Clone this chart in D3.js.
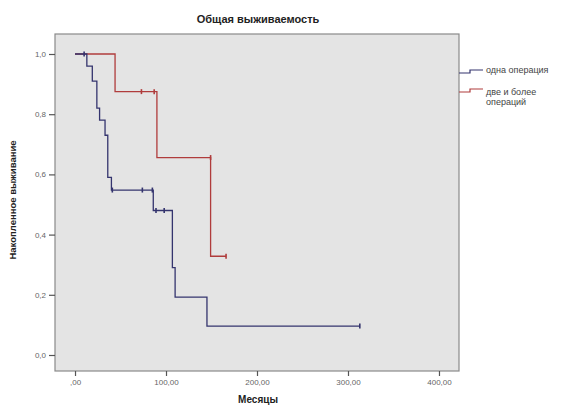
<!DOCTYPE html>
<html>
<head>
<meta charset="utf-8">
<script src="https://cdn.jsdelivr.net/npm/d3@7"></script>
<style>
  body { margin: 0; background: #fff; }
  svg { font-family: Arial, "Liberation Sans", sans-serif; }
</style>
</head>
<body>
<svg id="chart" width="587" height="407"></svg>
<script>
// Kaplan-Meier steps: [month, survival]
var oneOpSteps = [[0, 1.0], [13, 0.96], [19, 0.91], [24, 0.82], [27, 0.78], [33, 0.73],
                  [36, 0.59], [40, 0.548], [86, 0.48], [107, 0.29], [110, 0.192], [145, 0.096]];
var oneOpEnd = 313;
var oneOpCensored = [[10, 1.0], [41, 0.548], [74, 0.548], [85, 0.548], [89, 0.48], [98, 0.48], [313, 0.096]];

var twoOpSteps = [[0, 1.0], [44, 0.875], [90, 0.656], [149, 0.328]];
var twoOpEnd = 166;
var twoOpCensored = [[73, 0.875], [87, 0.875], [149, 0.656], [166, 0.328]];

var xTicks = [0, 100, 200, 300, 400];
var xTickLabels = [",00", "100,00", "200,00", "300,00", "400,00"];
var yTicks = [0, 0.2, 0.4, 0.6, 0.8, 1.0];
var yTickLabels = ["0,0", "0,2", "0,4", "0,6", "0,8", "1,0"];

var seriesNames = ["одна операция", ["две и более", "операций"]];
var seriesColors = ["#34346e", "#b03c3c"];

var svg = d3.select("#chart");
var plot = { left: 55, top: 34, right: 459, bottom: 371 };

var x = d3.scaleLinear().domain([-22, 422]).range([plot.left, plot.right]);
var y = d3.scaleLinear().domain([0, 1]).range([355, 54]);

// plot background
svg.append("rect")
    .attr("x", plot.left).attr("y", plot.top)
    .attr("width", plot.right - plot.left)
    .attr("height", plot.bottom - plot.top)
    .attr("fill", "#e4e4e4")
    .attr("stroke", "#8a8a8a")
    .attr("stroke-width", 1.2);

// title
svg.append("text")
    .attr("x", 258).attr("y", 23)
    .attr("text-anchor", "middle")
    .style("font-size", "11px").style("font-weight", "bold")
    .attr("fill", "#222")
    .text("Общая выживаемость");

// axes
var xAxis = d3.axisBottom(x).tickValues(xTicks).tickSize(5)
    .tickFormat(function(d, i) { return xTickLabels[i]; });
var gx = svg.append("g").attr("transform", "translate(0," + plot.bottom + ")").call(xAxis);
gx.select(".domain").remove();

var yAxis = d3.axisLeft(y).tickValues(yTicks).tickSize(6)
    .tickFormat(function(d, i) { return yTickLabels[i]; });
var gy = svg.append("g").attr("transform", "translate(" + plot.left + ",0)").call(yAxis);
gy.select(".domain").remove();

svg.selectAll(".tick line").attr("stroke", "#555").attr("stroke-width", 1.2);
svg.selectAll(".tick text").attr("fill", "#666").style("font-size", "8px")
    .style("font-family", "Arial, 'Liberation Sans', sans-serif");

svg.append("text")
    .attr("x", 258).attr("y", 403)
    .attr("text-anchor", "middle")
    .style("font-size", "10px").style("font-weight", "bold")
    .attr("fill", "#222")
    .text("Месяцы");

svg.append("text")
    .attr("transform", "translate(16,200) rotate(-90)")
    .attr("text-anchor", "middle")
    .style("font-size", "9.5px").style("font-weight", "bold")
    .attr("fill", "#222")
    .text("Накопленное выживание");

// survival curves
var line = d3.line()
    .x(function(d) { return x(d[0]); })
    .y(function(d) { return y(d[1]); })
    .curve(d3.curveStepAfter);

function drawCurve(steps, end, censored, color) {
    var pts = steps.concat([[end, steps[steps.length - 1][1]]]);
    svg.append("path")
        .attr("d", line(pts))
        .attr("fill", "none")
        .attr("stroke", color)
        .attr("stroke-width", 1.3);
    svg.selectAll(null)
        .data(censored)
        .enter()
        .append("line")
        .attr("x1", function(d) { return x(d[0]); })
        .attr("x2", function(d) { return x(d[0]); })
        .attr("y1", function(d) { return y(d[1]) - 2.5; })
        .attr("y2", function(d) { return y(d[1]) + 2.5; })
        .attr("stroke", color)
        .attr("stroke-width", 1.6);
}

drawCurve(twoOpSteps, twoOpEnd, twoOpCensored, seriesColors[1]);
drawCurve(oneOpSteps, oneOpEnd, oneOpCensored, seriesColors[0]);

// legend
var legendY = [73, 92];
legendY.forEach(function(ly, i) {
    var sx = plot.right;
    svg.append("path")
        .attr("d", "M" + sx + "," + ly + "H" + (sx + 11) + "V" + (ly - 3) + "H" + (sx + 24))
        .attr("fill", "none")
        .attr("stroke", seriesColors[i])
        .attr("stroke-width", 1.2);
});
svg.append("text")
    .attr("x", 486).attr("y", 73)
    .style("font-size", "9px").attr("fill", "#444")
    .text(seriesNames[0]);
svg.append("text")
    .attr("x", 486).attr("y", 95)
    .style("font-size", "9px").attr("fill", "#444")
    .selectAll("tspan")
    .data(seriesNames[1])
    .enter()
    .append("tspan")
    .attr("x", 486)
    .attr("dy", function(d, i) { return i === 0 ? 0 : 10; })
    .text(function(d) { return d; });
</script>
</body>
</html>
